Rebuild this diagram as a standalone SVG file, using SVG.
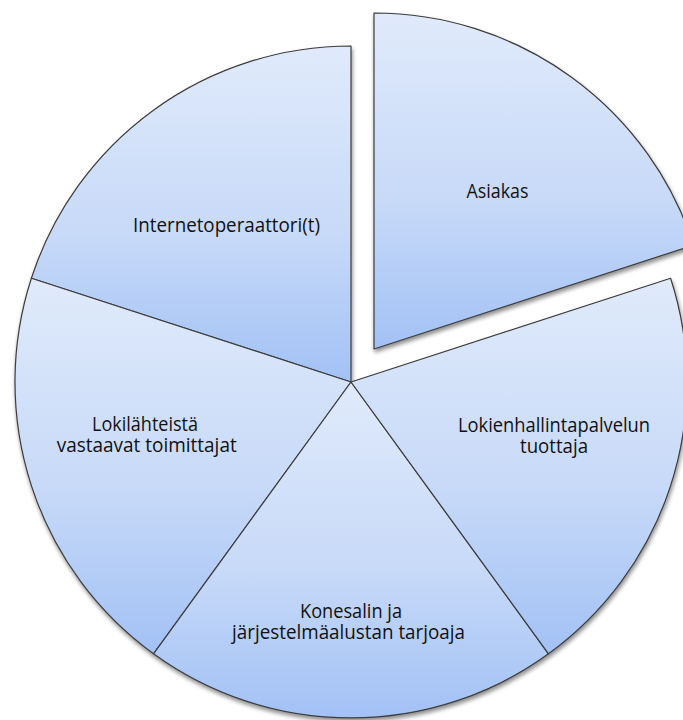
<svg xmlns="http://www.w3.org/2000/svg" width="683" height="720" viewBox="0 0 683 720">
  <defs>
    <linearGradient id="sliceFill" x1="0" y1="0" x2="0" y2="1">
      <stop offset="0" stop-color="#e0eafb"/>
      <stop offset="0.55" stop-color="#c8daf8"/>
      <stop offset="1" stop-color="#a2c1f5"/>
    </linearGradient>
    <filter id="softShadow" x="-5%" y="-5%" width="110%" height="110%">
      <feGaussianBlur in="SourceAlpha" stdDeviation="2.2"/>
      <feOffset dx="1" dy="2.5" result="blur"/>
      <feComponentTransfer><feFuncA type="linear" slope="0.45"/></feComponentTransfer>
      <feMerge><feMergeNode/><feMergeNode in="SourceGraphic"/></feMerge>
    </filter>
    <style>
      .slice { fill: url(#sliceFill); stroke: #3c3c3c; stroke-width: 1.2; stroke-linejoin: round; }
      .label { font-family: "Open Sans", "Liberation Sans", sans-serif; font-size: 19.5px; fill: #111; text-anchor: middle; }
    </style>
  </defs>

  <g filter="url(#softShadow)">
    <!-- exploded slice, pulled out along its mid-angle -->
    <g id="asiakas">
      <path class="slice" d="M374,349 L374,13 A336,336 0 0 1 693.6,245.2 Z"/>
    </g>
    <g id="internetoperaattori">
      <path class="slice" d="M351,382 L31.4,278.2 A336,336 0 0 1 351,46 Z"/>
    </g>
    <g id="lokilahteet">
      <path class="slice" d="M351,382 L153.5,653.8 A336,336 0 0 1 31.4,278.2 Z"/>
    </g>
    <g id="konesali">
      <path class="slice" d="M351,382 L548.5,653.8 A336,336 0 0 1 153.5,653.8 Z"/>
    </g>
    <g id="lokienhallinta">
      <path class="slice" d="M351,382 L670.6,278.2 A336,336 0 0 1 548.5,653.8 Z"/>
    </g>
  </g>

  <g id="labels">
    <text class="label" x="497.5" y="198" textLength="62" lengthAdjust="spacingAndGlyphs">Asiakas</text>
    <text class="label" x="226.5" y="232" textLength="187" lengthAdjust="spacingAndGlyphs">Internetoperaattori(t)</text>
    <text class="label" x="145" y="430.5" textLength="106" lengthAdjust="spacingAndGlyphs">Lokilähteistä</text>
    <text class="label" x="146.7" y="451.5" textLength="180" lengthAdjust="spacingAndGlyphs">vastaavat toimittajat</text>
    <text class="label" x="554" y="431.5" textLength="192" lengthAdjust="spacingAndGlyphs">Lokienhallintapalvelun</text>
    <text class="label" x="554" y="452.5" textLength="68" lengthAdjust="spacingAndGlyphs">tuottaja</text>
    <text class="label" x="351" y="617.5" textLength="102" lengthAdjust="spacingAndGlyphs">Konesalin ja</text>
    <text class="label" x="348.5" y="638.5" textLength="233" lengthAdjust="spacingAndGlyphs">järjestelmäalustan tarjoaja</text>
  </g>
</svg>
